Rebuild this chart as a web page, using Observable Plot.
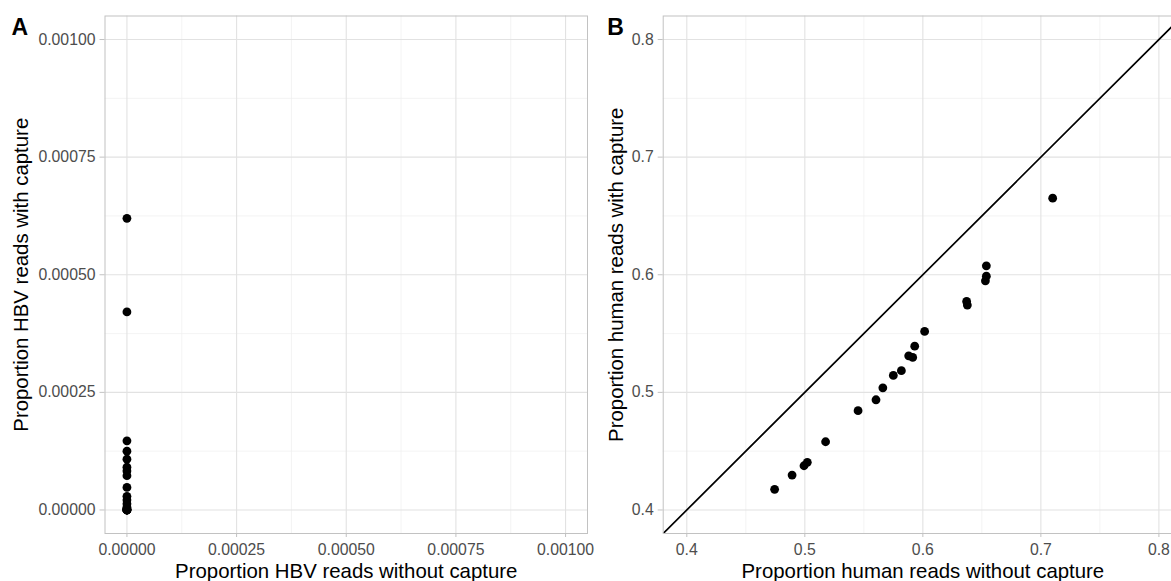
<!DOCTYPE html>
<html>
<head>
<meta charset="utf-8">
<script src="https://cdn.jsdelivr.net/npm/d3@7"></script>
<script src="https://cdn.jsdelivr.net/npm/@observablehq/plot@0.6"></script>
<style>
  html, body { margin: 0; padding: 0; background: #ffffff; overflow: hidden; width: 1171px; height: 581px; }
  #wrap { position: relative; width: 1171px; height: 581px; overflow: hidden; }
  #panelA { position: absolute; left: 0; top: 0; width: 600px; height: 581px; }
  #panelB { position: absolute; left: 600px; top: 0; width: 582px; height: 581px; }
  #wrap svg { max-width: none !important; }
</style>
</head>
<body>
<div id="wrap"><div id="panelA"></div><div id="panelB"></div></div>
<script>
// Panel A: proportion of HBV reads (without capture vs with capture)
const hbvWithout = [0, 0, 0, 0, 0, 0, 0, 0, 0, 0, 0, 0, 0, 0, 0, 0, 0, 0, 0, 0];
const hbvWith = [0.000620, 0.000421, 0.000147, 0.000125, 0.000108, 0.000091, 0.000083, 0.000073,
                 0.000048, 0.000029, 0.000021, 0.000013, 0.000006, 0.000003, 0.000001, 0, 0, 0, 0, 0];
const hbvTicks = [0, 0.00025, 0.0005, 0.00075, 0.001];
const hbvMinor = [0.000125, 0.000375, 0.000625, 0.000875];
const hbvDomain = [-0.00005, 0.00105];

// Panel B: proportion of human reads
const humanWithout = [0.4744, 0.4892, 0.4993, 0.5021, 0.5176, 0.5451, 0.5603, 0.5661, 0.5750, 0.5818,
                      0.5880, 0.5914, 0.5931, 0.6015, 0.6371, 0.6377, 0.6530, 0.6538, 0.6538, 0.7100];
const humanWith = [0.4176, 0.4297, 0.4376, 0.4405, 0.4580, 0.4844, 0.4937, 0.5039, 0.5144, 0.5184,
                   0.5311, 0.5297, 0.5393, 0.5518, 0.5773, 0.5742, 0.5948, 0.5988, 0.6076, 0.6651];
const humanTicks = [0.4, 0.5, 0.6, 0.7, 0.8];
const humanMinor = [0.45, 0.55, 0.65, 0.75];
const humanDomain = [0.38, 0.82];
const identityLine = [0.3, 0.9]; // y = x reference line

const hbvData = hbvWithout.map((x, i) => ({x, y: hbvWith[i]}));
const humanData = humanWithout.map((x, i) => ({x, y: humanWith[i]}));

const FONT = "'Liberation Sans', Arial, Helvetica, sans-serif";
const gridMajor = "#e2e2e2";
const gridMinor = "#efefef";
const borderCol = "#c2c2c2";
const tickText = "#4d4d4d";
const tickFont = 15.8;
const titleFont = 20.4;

function panel({data, ticks, minor, domain, fmt, xTitle, yTitle, tag, width, marginLeft, marginRight, yTitleDx, tagDx, tagDy, extra}) {
  return Plot.plot({
    width, height: 581,
    marginLeft, marginRight, marginTop: 15.5, marginBottom: 48,
    x: {domain},
    y: {domain},
    style: {fontFamily: FONT, background: "transparent", overflow: "visible", maxWidth: "none"},
    marks: [
      Plot.gridX(minor, {stroke: gridMinor, strokeOpacity: 1, strokeWidth: 0.7}),
      Plot.gridY(minor, {stroke: gridMinor, strokeOpacity: 1, strokeWidth: 0.7}),
      Plot.gridX(ticks, {stroke: gridMajor, strokeOpacity: 1, strokeWidth: 1.1}),
      Plot.gridY(ticks, {stroke: gridMajor, strokeOpacity: 1, strokeWidth: 1.1}),
      ...(extra || []),
      Plot.dot(data, {x: "x", y: "y", r: 4.4, fill: "black", stroke: null}),
      Plot.frame({stroke: borderCol, strokeWidth: 1}),
      Plot.axisX(ticks, {tickFormat: fmt, tickSize: 4, tickPadding: 6.5, stroke: borderCol, fill: tickText, fontSize: tickFont, label: null}),
      Plot.axisY(ticks, {tickFormat: fmt, tickSize: 5, tickPadding: 4.5, stroke: borderCol, fill: tickText, fontSize: tickFont, label: null}),
      Plot.text([xTitle], {frameAnchor: "bottom", dy: 37.5, text: d => d, fontSize: titleFont, fill: "black", textAnchor: "middle", lineAnchor: "middle"}),
      Plot.text([yTitle], {frameAnchor: "left", dx: yTitleDx, text: d => d, fontSize: titleFont, fill: "black", rotate: -90, textAnchor: "middle", lineAnchor: "middle"}),
      Plot.text([tag], {frameAnchor: "top-left", dx: tagDx, dy: tagDy, text: d => d, fontSize: 23, fontWeight: "bold", fill: "black", textAnchor: "start", lineAnchor: "top"})
    ]
  });
}

document.getElementById("panelA").appendChild(panel({
  data: hbvData, ticks: hbvTicks, minor: hbvMinor, domain: hbvDomain,
  fmt: d => d.toFixed(5),
  xTitle: "Proportion HBV reads without capture",
  yTitle: "Proportion HBV reads with capture",
  tag: "A", width: 600, marginLeft: 104.5, marginRight: 13,
  yTitleDx: -83.5, tagDx: -93.5, tagDy: 2.3
}));

document.getElementById("panelB").appendChild(panel({
  data: humanData, ticks: humanTicks, minor: humanMinor, domain: humanDomain,
  fmt: d => d.toFixed(1),
  xTitle: "Proportion human reads without capture",
  yTitle: "Proportion human reads with capture",
  tag: "B", width: 582, marginLeft: 62.7, marginRight: 0,
  yTitleDx: -46.7, tagDx: -56, tagDy: 3,
  extra: [Plot.line(identityLine, {x: d => d, y: d => d, stroke: "black", strokeWidth: 1.7, clip: true})]
}));
</script>
</body>
</html>
